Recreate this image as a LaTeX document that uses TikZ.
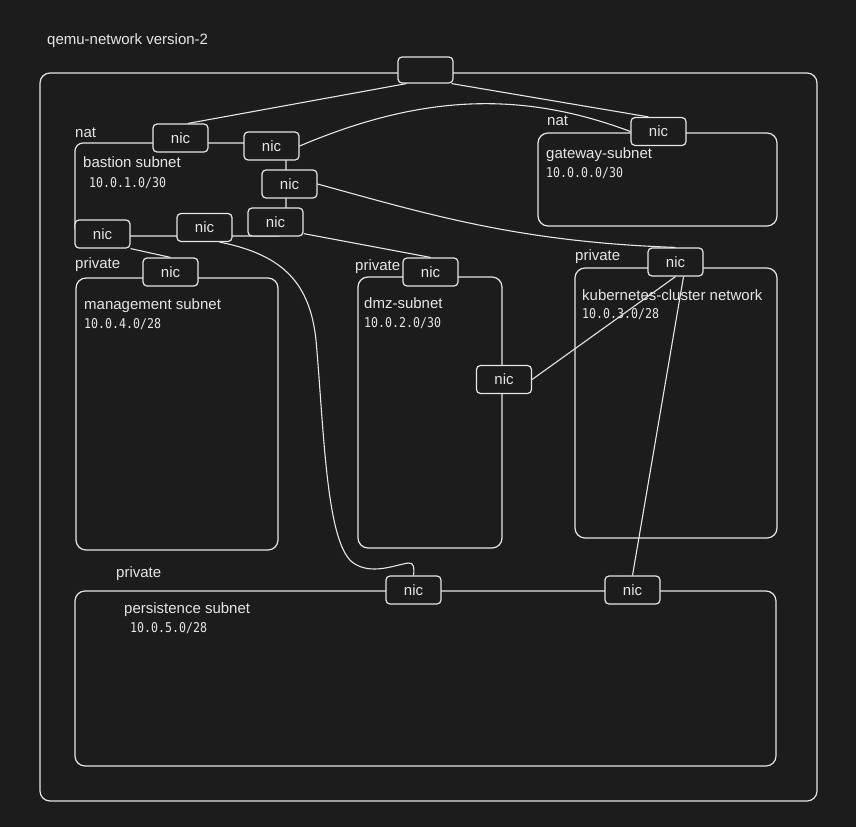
\documentclass[tikz,border=0pt]{standalone}
\usepackage{fontspec}
\setmainfont{Liberation Sans}
\newfontfamily\monofont[FakeStretch=0.86]{DejaVu Sans Mono}
\usetikzlibrary{calc}
\definecolor{bg}{HTML}{1C1C1C}
\definecolor{fg}{HTML}{E6E6E6}
\tikzset{
  frame/.style={draw=fg, line width=1.2pt, rounded corners=10pt},
  nicbox/.style={draw=fg, fill=bg, line width=1.2pt, rounded corners=4pt, minimum width=55pt, minimum height=28pt, inner sep=0pt, text=fg, font=\fontsize{15}{18}\selectfont},
  lbl/.style={anchor=base west, inner sep=0pt, text=fg, font=\fontsize{15}{18}\selectfont},
  ip/.style={anchor=base west, inner sep=0pt, text=fg, font=\monofont\fontsize{13.5}{16}\selectfont},
  wire/.style={draw=fg, line width=1.1pt},
}
\begin{document}
\begin{tikzpicture}[x=1pt,y=-1pt]
\fill[bg] (0,0) rectangle (856,827);
\useasboundingbox (0,0) rectangle (856,827);

% boxes
\draw[frame] (40,73) rectangle (817,801);
\draw[frame, rounded corners=8pt] (75,143) rectangle (286,236);
\draw[frame] (538,133) rectangle (777,226);
\draw[frame] (76,278) rectangle (278,550);
\draw[frame] (358,277) rectangle (502,548);
\draw[frame] (575,268) rectangle (777,538);
\draw[frame] (75,591) rectangle (776,766);

% nodes
\node[nicbox, minimum height=26pt] (top) at (425.5,70) {};
\node[nicbox] (n1) at (180.5,138) {nic};
\node[nicbox] (n2) at (271.5,146) {nic};
\node[nicbox] (n3) at (289.5,184) {nic};
\node[nicbox] (n5) at (275.5,222) {nic};
\node[nicbox] (nB) at (204.5,227.5) {nic};
\node[nicbox] (n4) at (102.5,234) {nic};
\node[nicbox] (ngw) at (658.5,131.5) {nic};
\node[nicbox] (nmg) at (170.5,272) {nic};
\node[nicbox] (ndz) at (430.5,272) {nic};
\node[nicbox] (ndm) at (504,379.5) {nic};
\node[nicbox] (nk8) at (675.5,262) {nic};
\node[nicbox] (np1) at (413.5,590) {nic};
\node[nicbox] (np2) at (632.5,590) {nic};

% connectors
\draw[wire] ($(top.south west)+(9,0)$) -- ($(n1.north)+(7.5,0)$);
\draw[wire] ($(top.south east)+(-2,0)$) -- ($(ngw.north)+(-10,0)$);
\draw[wire] (n2.east) .. controls (420,95) and (520,90) .. (ngw.west);
\draw[wire] (n3.east) .. controls (430,215) and (520,242) .. (nk8.north);
\draw[wire] ($(n5.south east)+(0,-3)$) -- (ndz.north);
\draw[wire] (n4.south east) -- (nmg.north);
\draw[wire] ($(nB.south)+(15,0)$) .. controls (285,255) and (310,285) .. (316,340)
  .. controls (324,430) and (326,540) .. (352,562)
  .. controls (370,576) and (395,565) .. (408,563)
  .. controls (414,562) and (414.5,568) .. (np1.north);
\draw[wire] (nk8.south) -- (ndm.east);
\draw[wire] ($(nk8.south)+(8,0)$) -- (np2.north);

% labels
\node[lbl] (title) at (47,44) {qemu-network version-2};
\node[lbl] (natb) at (75,137) {nat};
\node[lbl] (bast) at (83,167) {bastion subnet};
\node[ip] (bastip) at (89,187) {10.0.1.0/30};
\node[lbl] (natg) at (547,125) {nat};
\node[lbl] (gw) at (546,158) {gateway-subnet};
\node[ip] (gwip) at (546,177) {10.0.0.0/30};
\node[lbl] (pmg) at (75,268) {private};
\node[lbl] (mg) at (84,309) {management subnet};
\node[ip] (mgip) at (84,328) {10.0.4.0/28};
\node[lbl] (pdz) at (355,270) {private};
\node[lbl] (dz) at (364,308) {dmz-subnet};
\node[ip] (dzip) at (364,327) {10.0.2.0/30};
\node[lbl] (pk8) at (575,260) {private};
\node[lbl] (k8) at (582,300) {kubernetes-cluster network};
\node[ip] (k8ip) at (582,318) {10.0.3.0/28};
\node[lbl] (pps) at (116,577) {private};
\node[lbl] (ps) at (124,613) {persistence subnet};
\node[ip] (psip) at (130,632) {10.0.5.0/28};
\end{tikzpicture}
\end{document}
